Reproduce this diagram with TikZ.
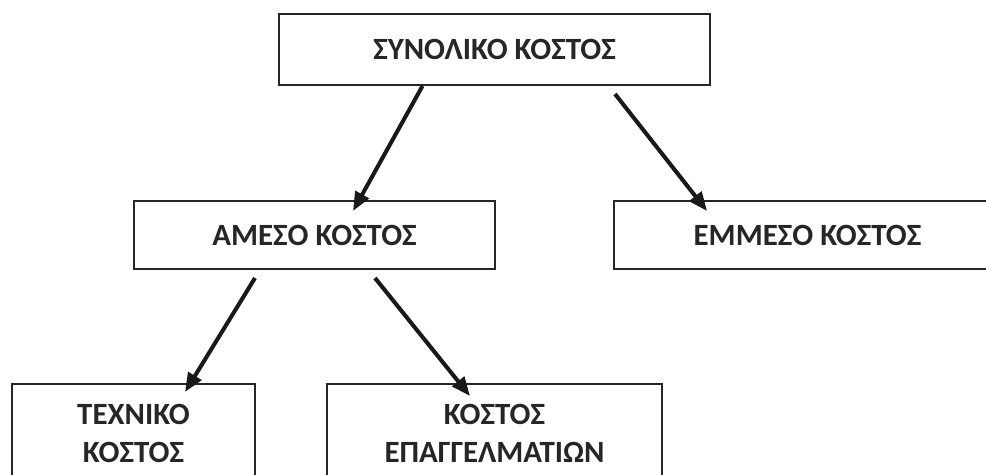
\documentclass[tikz,border=0pt]{standalone}
\usepackage{fontspec}
\setmainfont{Carlito}
\usepackage{tikz}
\usetikzlibrary{calc,arrows.meta}

\begin{document}
\begin{tikzpicture}[x=0.02cm,y=-0.02cm,every text node part/.style={align=center},
costbox/.style={draw=black!85,line width=1.1pt,inner sep=0pt,font=\fontsize{17.6}{21.6}\selectfont\bfseries,text=black!85},
costarrow/.style={draw=black!90,line width=2.3pt,-{Triangle[length=0.38cm,width=0.3cm]}}]
\clip (0,0) rectangle (986,474);
\node [costbox,minimum width=8.62cm,minimum height=1.42cm] (total) at (494.5,49.5) {ΣΥΝΟΛΙΚΟ ΚΟΣΤΟΣ};
\node [costbox,minimum width=7.22cm,minimum height=1.36cm] (direct) at (314.5,235) {ΑΜΕΣΟ ΚΟΣΤΟΣ};
\node [costbox,minimum width=7.74cm,minimum height=1.36cm] (indirect) at (807.5,235) {ΕΜΜΕΣΟ ΚΟΣΤΟΣ};
\node [costbox,minimum width=4.86cm,minimum height=1.96cm] (tech) at (133.5,433) {ΤΕΧΝΙΚΟ\\ΚΟΣΤΟΣ};
\node [costbox,minimum width=6.7cm,minimum height=1.96cm] (prof) at (494.5,433) {ΚΟΣΤΟΣ\\ΕΠΑΓΓΕΛΜΑΤΙΩΝ};
\draw [costarrow] ($(total.south)+(-72,0)$) -- ($(direct.north)+(38.5,11)$);
\draw [costarrow] ($(total.south)+(120.5,8)$) -- ($(indirect.north west)+(94,11)$);
\draw [costarrow] ($(direct.south)+(-59.5,8)$) -- ($(tech.north)+(51.5,9)$);
\draw [costarrow] ($(direct.south)+(60.5,8)$) -- ($(prof.north)+(-24.5,13)$);
\end{tikzpicture}
\end{document}
